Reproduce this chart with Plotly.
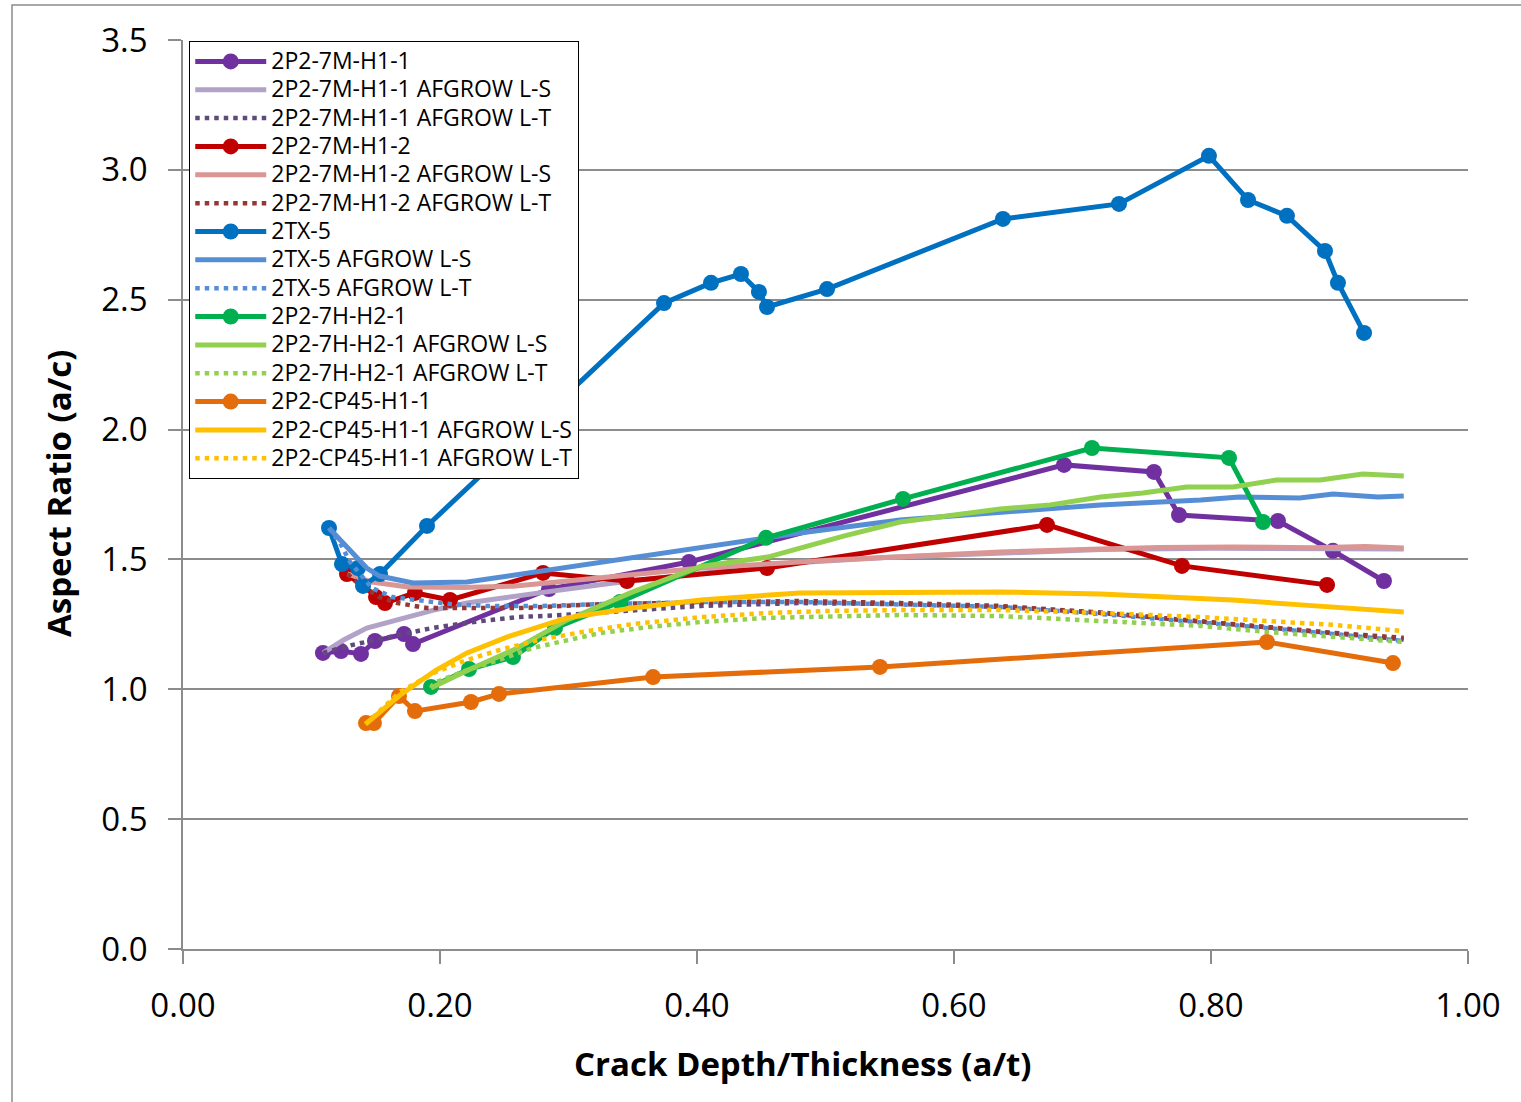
import plotly.graph_objects as go

# ---- measured specimen data (crack depth ratio a/t, aspect ratio a/c) ----
h1_1_x = [0.1089, 0.1230, 0.1385, 0.1494, 0.1720, 0.1790, 0.2848, 0.3938, 0.6856, 0.7556, 0.7751, 0.8521, 0.8949, 0.9346]
h1_1_y = [1.140, 1.147, 1.136, 1.186, 1.213, 1.174, 1.386, 1.490, 1.864, 1.837, 1.671, 1.648, 1.533, 1.417]

h1_2_x = [0.1276, 0.1502, 0.1572, 0.1805, 0.2078, 0.2802, 0.3455, 0.4545, 0.6724, 0.7774, 0.8903]
h1_2_y = [1.444, 1.355, 1.332, 1.371, 1.344, 1.448, 1.417, 1.467, 1.633, 1.475, 1.402]

tx5_x = [0.1136, 0.1237, 0.1362, 0.1401, 0.1533, 0.1899, 0.3743, 0.4109, 0.4342, 0.4482, 0.4545,
         0.5012, 0.6381, 0.7284, 0.7984, 0.8288, 0.8591, 0.8887, 0.8988, 0.9191]
tx5_y = [1.621, 1.482, 1.467, 1.398, 1.444, 1.629, 2.487, 2.565, 2.599, 2.530, 2.472,
         2.541, 2.811, 2.869, 3.054, 2.884, 2.823, 2.688, 2.565, 2.372]

h2_1_x = [0.1930, 0.2226, 0.2568, 0.2895, 0.3401, 0.4537, 0.5603, 0.7074, 0.8140, 0.8405]
h2_1_y = [1.009, 1.078, 1.124, 1.236, 1.336, 1.583, 1.733, 1.929, 1.891, 1.644]

cp45_x = [0.1424, 0.1486, 0.1681, 0.1805, 0.2241, 0.2459, 0.3658, 0.5424, 0.8436, 0.9416]
cp45_y = [0.870, 0.870, 0.974, 0.916, 0.951, 0.982, 1.047, 1.086, 1.182, 1.101]

# ---- AFGROW predictions, L-S orientation ----
h1_1_ls_x = [0.109, 0.125, 0.143, 0.169, 0.195, 0.221, 0.252, 0.283, 0.335, 0.380, 0.420, 0.480, 0.550, 0.636, 0.714, 0.800, 0.870, 0.950]
h1_1_ls_y = [1.140, 1.190, 1.236, 1.271, 1.305, 1.332, 1.355, 1.375, 1.409, 1.435, 1.458, 1.488, 1.508, 1.525, 1.538, 1.543, 1.543, 1.540]

h1_2_ls_x = [0.128, 0.147, 0.175, 0.218, 0.257, 0.325, 0.403, 0.506, 0.560, 0.636, 0.714, 0.760, 0.817, 0.880, 0.920, 0.950]
h1_2_ls_y = [1.444, 1.413, 1.394, 1.392, 1.397, 1.429, 1.467, 1.498, 1.512, 1.529, 1.540, 1.546, 1.548, 1.545, 1.550, 1.544]

tx5_ls_x = [0.1136, 0.143, 0.153, 0.179, 0.221, 0.247, 0.325, 0.403, 0.480, 0.558, 0.636, 0.714, 0.792, 0.822, 0.869, 0.895, 0.930, 0.950]
tx5_ls_y = [1.621, 1.467, 1.436, 1.409, 1.413, 1.432, 1.490, 1.548, 1.602, 1.652, 1.679, 1.710, 1.729, 1.740, 1.737, 1.752, 1.740, 1.744]

h2_1_ls_x = [0.193, 0.222, 0.257, 0.299, 0.350, 0.403, 0.455, 0.514, 0.558, 0.636, 0.675, 0.714, 0.747, 0.781, 0.817, 0.851, 0.885, 0.918, 0.950]
h2_1_ls_y = [1.005, 1.074, 1.151, 1.267, 1.375, 1.473, 1.509, 1.590, 1.644, 1.694, 1.710, 1.740, 1.756, 1.779, 1.779, 1.806, 1.806, 1.829, 1.821]

cp45_ls_x = [0.142, 0.169, 0.197, 0.221, 0.252, 0.299, 0.350, 0.403, 0.480, 0.558, 0.636, 0.714, 0.817, 0.870, 0.950]
cp45_ls_y = [0.866, 0.978, 1.074, 1.140, 1.201, 1.275, 1.313, 1.344, 1.371, 1.375, 1.375, 1.367, 1.344, 1.325, 1.298]

# ---- AFGROW predictions, L-T orientation ----
h1_1_lt_x = [0.109, 0.132, 0.160, 0.194, 0.226, 0.260, 0.296, 0.350, 0.403, 0.480, 0.558, 0.636, 0.714, 0.792, 0.843, 0.895, 0.950]
h1_1_lt_y = [1.140, 1.171, 1.201, 1.236, 1.259, 1.278, 1.286, 1.305, 1.321, 1.332, 1.328, 1.317, 1.296, 1.261, 1.238, 1.215, 1.192]

h1_2_lt_x = [0.128, 0.136, 0.153, 0.167, 0.190, 0.221, 0.263, 0.325, 0.403, 0.480, 0.558, 0.636, 0.714, 0.792, 0.843, 0.895, 0.950]
h1_2_lt_y = [1.444, 1.409, 1.355, 1.332, 1.313, 1.313, 1.313, 1.328, 1.336, 1.340, 1.332, 1.321, 1.294, 1.263, 1.240, 1.217, 1.198]

tx5_lt_x = [0.1136, 0.123, 0.130, 0.147, 0.163, 0.182, 0.208, 0.236, 0.280, 0.325, 0.403, 0.480, 0.558, 0.636, 0.714, 0.792, 0.843, 0.895, 0.950]
tx5_lt_y = [1.621, 1.556, 1.490, 1.390, 1.355, 1.344, 1.328, 1.321, 1.321, 1.328, 1.336, 1.336, 1.328, 1.317, 1.290, 1.259, 1.236, 1.213, 1.186]

h2_1_lt_x = [0.193, 0.195, 0.221, 0.246, 0.272, 0.299, 0.325, 0.363, 0.403, 0.455, 0.506, 0.558, 0.636, 0.714, 0.792, 0.843, 0.895, 0.950]
h2_1_lt_y = [1.005, 1.024, 1.074, 1.113, 1.159, 1.190, 1.217, 1.240, 1.259, 1.275, 1.282, 1.286, 1.282, 1.263, 1.244, 1.221, 1.201, 1.182]

cp45_lt_x = [0.142, 0.169, 0.195, 0.221, 0.246, 0.277, 0.311, 0.350, 0.403, 0.455, 0.506, 0.558, 0.636, 0.714, 0.792, 0.843, 0.895, 0.950]
cp45_lt_y = [0.866, 0.990, 1.063, 1.113, 1.151, 1.190, 1.221, 1.251, 1.278, 1.294, 1.302, 1.305, 1.305, 1.294, 1.278, 1.263, 1.248, 1.224]

x_ticks = [0.0, 0.2, 0.4, 0.6, 0.8, 1.0]
y_ticks = [0.0, 0.5, 1.0, 1.5, 2.0, 2.5, 3.0, 3.5]

FONT = "Open Sans"
GRID = "#8c8c8c"
DOT = "4.5px,5px"

series = [
    ("2P2-7M-H1-1", h1_1_x, h1_1_y, "#7030A0", "meas"),
    ("2P2-7M-H1-1 AFGROW L-S", h1_1_ls_x, h1_1_ls_y, "#B3A2C7", "ls"),
    ("2P2-7M-H1-1 AFGROW L-T", h1_1_lt_x, h1_1_lt_y, "#604A7B", "lt"),
    ("2P2-7M-H1-2", h1_2_x, h1_2_y, "#C00000", "meas"),
    ("2P2-7M-H1-2 AFGROW L-S", h1_2_ls_x, h1_2_ls_y, "#DA9694", "ls"),
    ("2P2-7M-H1-2 AFGROW L-T", h1_2_lt_x, h1_2_lt_y, "#953735", "lt"),
    ("2TX-5", tx5_x, tx5_y, "#0070C0", "meas"),
    ("2TX-5 AFGROW L-S", tx5_ls_x, tx5_ls_y, "#558ED5", "ls"),
    ("2TX-5 AFGROW L-T", tx5_lt_x, tx5_lt_y, "#558ED5", "lt"),
    ("2P2-7H-H2-1", h2_1_x, h2_1_y, "#00B050", "meas"),
    ("2P2-7H-H2-1 AFGROW L-S", h2_1_ls_x, h2_1_ls_y, "#92D050", "ls"),
    ("2P2-7H-H2-1 AFGROW L-T", h2_1_lt_x, h2_1_lt_y, "#92D050", "lt"),
    ("2P2-CP45-H1-1", cp45_x, cp45_y, "#E46C0A", "meas"),
    ("2P2-CP45-H1-1 AFGROW L-S", cp45_ls_x, cp45_ls_y, "#FFC000", "ls"),
    ("2P2-CP45-H1-1 AFGROW L-T", cp45_lt_x, cp45_lt_y, "#FFC000", "lt"),
]

# legend rows keep a compact pitch while the entry text is drawn a bit larger
LEGEND_ROW_FONT = 19.5
LEGEND_TEXT_PX = 23

fig = go.Figure()
for name, xs, ys, color, kind in series:
    label = f'<span style="font-size:{LEGEND_TEXT_PX}px">{name}</span>'
    if kind == "meas":
        fig.add_trace(go.Scatter(x=xs, y=ys, name=label, mode="lines+markers",
                                 line=dict(color=color, width=5),
                                 marker=dict(color=color, size=16, symbol="circle")))
    elif kind == "ls":
        fig.add_trace(go.Scatter(x=xs, y=ys, name=label, mode="lines",
                                 line=dict(color=color, width=5)))
    else:
        fig.add_trace(go.Scatter(x=xs, y=ys, name=label, mode="lines",
                                 line=dict(color=color, width=4.5, dash=DOT)))

fig.update_layout(
    width=1521, height=1102,
    margin=dict(l=183, r=53, t=40, b=153),
    paper_bgcolor="white", plot_bgcolor="white",
    font=dict(family=FONT, color="black"),
    showlegend=True,
    legend=dict(x=0.0047, y=(949 - 41) / 909, xanchor="left", yanchor="top",
                bgcolor="white", bordercolor="black", borderwidth=1.2,
                font=dict(family=FONT, size=LEGEND_ROW_FONT, color="black"),
                itemwidth=71, tracegroupgap=0),
    xaxis=dict(range=[0, 1], tickvals=x_ticks, tickformat=".2f",
               showgrid=False, zeroline=False,
               showline=True, linecolor=GRID, linewidth=1.5,
               ticks="outside", ticklen=13, tickcolor=GRID, tickwidth=1.5,
               tickfont=dict(family=FONT, size=33), ticklabelstandoff=14),
    yaxis=dict(range=[0, 3.5], tickvals=y_ticks, tickformat=".1f",
               showgrid=True, gridcolor=GRID, gridwidth=1.5, zeroline=False,
               showline=True, linecolor=GRID, linewidth=1.5,
               ticks="outside", ticklen=13, tickcolor=GRID, tickwidth=1.5,
               tickfont=dict(family=FONT, size=33), ticklabelstandoff=14),
    annotations=[
        dict(text="<b>Crack Depth/Thickness (a/t)</b>", xref="paper", yref="paper",
             x=(803 - 183) / 1285, y=-(1063 - 949) / 909, xanchor="center", yanchor="middle",
             showarrow=False, font=dict(family=FONT, size=33, color="black")),
        dict(text="<b>Aspect Ratio (a/c)</b>", xref="paper", yref="paper",
             x=-(183 - 58) / 1285, y=(949 - 494) / 909, xanchor="center", yanchor="middle",
             textangle=-90, showarrow=False, font=dict(family=FONT, size=33, color="black")),
    ],
    shapes=[
        dict(type="rect", xref="paper", yref="paper", layer="below",
             x0=-(183 - 12) / 1285, x1=(1540 - 183) / 1285,
             y0=-(1115 - 949) / 909, y1=(949 - 5) / 909,
             line=dict(color=GRID, width=1.5), fillcolor="rgba(0,0,0,0)"),
    ],
)

fig.write_html("out.html")
